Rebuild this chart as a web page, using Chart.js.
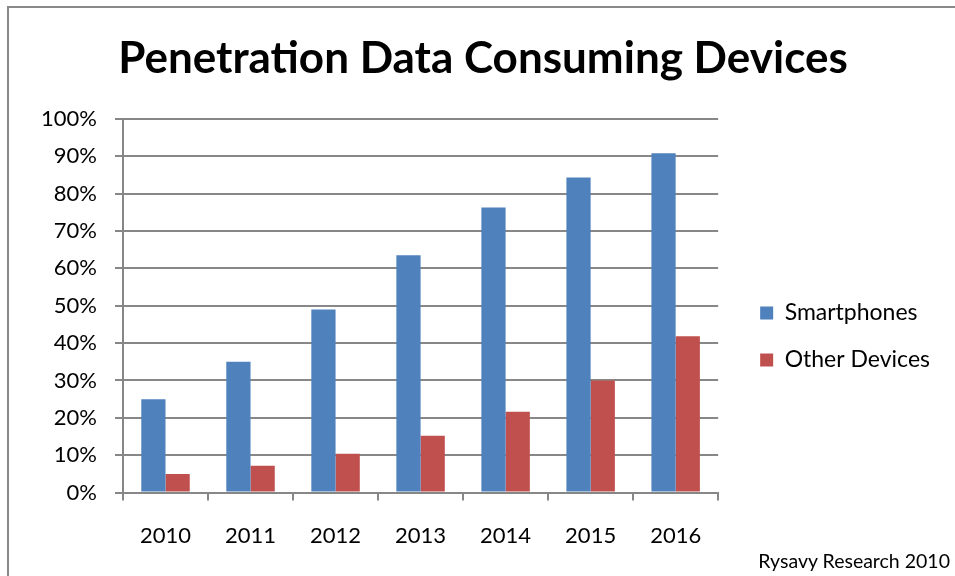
<!DOCTYPE html>
<html>
<head>
<meta charset="utf-8">
<script src="https://cdn.jsdelivr.net/npm/chart.js@4/dist/chart.umd.min.js"></script>
<style>
  body { margin: 0; overflow: hidden; background: #fff; }
  #frame { position: absolute; left: 7px; top: 6px; width: 1000px; height: 1000px; border: 2px solid #898989; }
  #source { position: absolute; right: 5px; top: 549px; font-family: Lato, sans-serif; font-size: 19.5px; color: #000; }
  canvas { position: absolute; left: 0; top: 0; }
</style>
</head>
<body>
<div id="frame"></div>
<canvas id="chart" width="955" height="576"></canvas>
<div id="source">Rysavy Research 2010</div>
<script>
const years = ['2010', '2011', '2012', '2013', '2014', '2015', '2016'];
const smartphones = [25, 35, 49, 63.5, 76.3, 84.3, 90.8];
const otherDevices = [5, 7.2, 10.4, 15.2, 21.6, 30, 41.8];
const seriesNames = ['Smartphones', 'Other Devices'];

const gridGray = '#878787';

// nudge legend and title after layout so the plot keeps its size
const nudge = {
  id: 'nudge',
  afterLayout(chart) {
    const lg = chart.legend;
    lg.left += 18; lg.right += 18;
    lg.top += 46; lg.bottom += 46;
    const t = chart.titleBlock;
    t.left += 17; t.right += 17;
  }
};

const ctx = document.getElementById('chart');
new Chart(ctx, {
  type: 'bar',
  data: {
    labels: years,
    datasets: [{
      label: seriesNames[0],
      data: smartphones,
      backgroundColor: '#4F81BD'
    }, {
      label: seriesNames[1],
      data: otherDevices,
      backgroundColor: '#C0504D'
    }]
  },
  options: {
    responsive: false,
    animation: false,
    devicePixelRatio: 1,
    datasets: { bar: { categoryPercentage: 0.57, barPercentage: 1.0 } },
    layout: { padding: { left: 10, right: 33, top: 10, bottom: 5 } },
    plugins: {
      title: {
        display: true,
        text: 'Penetration Data Consuming Devices',
        color: '#000',
        font: { family: 'Lato', size: 44, weight: 'bold' },
        padding: { top: 22, bottom: 34 }
      },
      legend: {
        position: 'right',
        labels: {
          color: '#000',
          font: { family: 'Lato', size: 23 },
          boxWidth: 13,
          boxHeight: 13,
          padding: 24
        }
      },
      tooltip: { enabled: false }
    },
    scales: {
      x: {
        grid: { drawOnChartArea: false, drawTicks: true, tickLength: 8, color: gridGray, lineWidth: 2 },
        border: { color: gridGray, width: 2 },
        ticks: { color: '#000', font: { family: 'Lato', size: 22 }, padding: 22 }
      },
      y: {
        min: 0,
        max: 100,
        afterFit(scale) { scale.width = 113; },
        grid: { color: gridGray, lineWidth: 2, tickLength: 8 },
        border: { color: gridGray, width: 2 },
        ticks: {
          stepSize: 10,
          color: '#000',
          font: { family: 'Lato', size: 22 },
          padding: 18,
          callback: (v) => v + '%'
        }
      }
    }
  },
  plugins: [nudge]
});
</script>
</body>
</html>
